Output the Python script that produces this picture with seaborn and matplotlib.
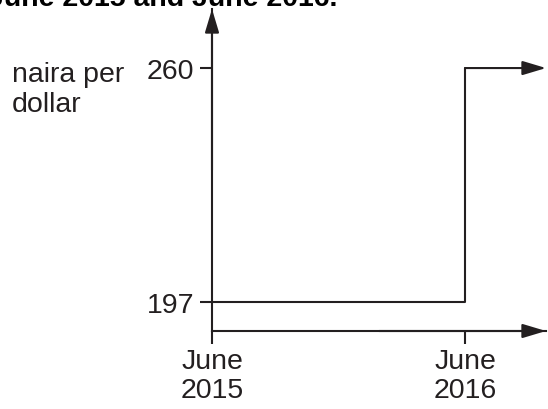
"""
Step chart: naira per dollar exchange rate, June 2015 to June 2016
"""

import matplotlib
matplotlib.use("Agg")
import matplotlib.pyplot as plt
import seaborn as sns
import pandas as pd

# Data
dates = ["June 2015", "June 2016"]
date_pos = [0, 1]
rates = [197, 260]
tick_labels = ["June\n2015", "June\n2016"]

INK = "#231f20"
W, H = 548, 410
FS = 20.5

sns.set_theme(style="white")
plt.rcParams["font.family"] = ["Liberation Sans", "DejaVu Sans"]
plt.rcParams["text.color"] = INK
plt.rcParams["xtick.color"] = INK
plt.rcParams["ytick.color"] = INK

fig = plt.figure(figsize=(W / 100, H / 100), dpi=100)
fig.patch.set_facecolor("white")

# axes box in pixels: left 212, bottom 332, right 546, top 10
ax = fig.add_axes([212 / W, (H - 332) / H, (546 - 212) / W, (332 - 10) / H])
ax.set_facecolor("white")

df = pd.DataFrame({"date": date_pos, "rate": rates})
sns.lineplot(data=df, x="date", y="rate", drawstyle="steps-post",
             color=INK, linewidth=1.5, ax=ax)

ax.set_xlim(0, 1.32)
ax.set_ylim(189.2, 275.9)

arrow = dict(arrowstyle="-|>,head_length=1.0,head_width=0.3",
             mutation_scale=14.4, color=INK, lw=1.5, shrinkA=0, shrinkB=0)

# continuation of the last value to the right with an arrow
ax.annotate("", xy=(1.32, rates[-1]), xytext=(date_pos[-1], rates[-1]),
            arrowprops=arrow)

# axes arrows
for xy, xyt in [((0, 1), (0, 0.5)), ((1, 0), (0.5, 0))]:
    ax.annotate("", xy=xy, xytext=xyt, xycoords="axes fraction",
                arrowprops=arrow)

for side in ["top", "right"]:
    ax.spines[side].set_visible(False)
for side in ["left", "bottom"]:
    ax.spines[side].set_color(INK)
    ax.spines[side].set_linewidth(1.5)

ax.set_xticks(date_pos)
ax.set_xticklabels(tick_labels, fontsize=FS, linespacing=1.15)
ax.set_yticks(rates)
ax.set_yticklabels([str(r) for r in rates], fontsize=FS)
ax.tick_params(axis="x", direction="out", length=9.5, width=1.5, pad=3, bottom=True)
ax.tick_params(axis="y", direction="out", length=8.6, width=1.5, pad=4.3, left=True)
ax.set_xlabel("")
ax.set_ylabel("")

fig.text(12 / W, 1 - 112 / H, "naira per\ndollar", fontsize=FS,
         va="baseline", ha="left", linespacing=1.2)

# title, mostly cropped off at the top as in the source
fig.text(337 / W, 1 - 6 / H, "June 2015 and June 2016.", fontsize=FS,
         fontweight="bold", va="baseline", ha="right", color="black")

fig.savefig("out.png", dpi=100, facecolor="white")
